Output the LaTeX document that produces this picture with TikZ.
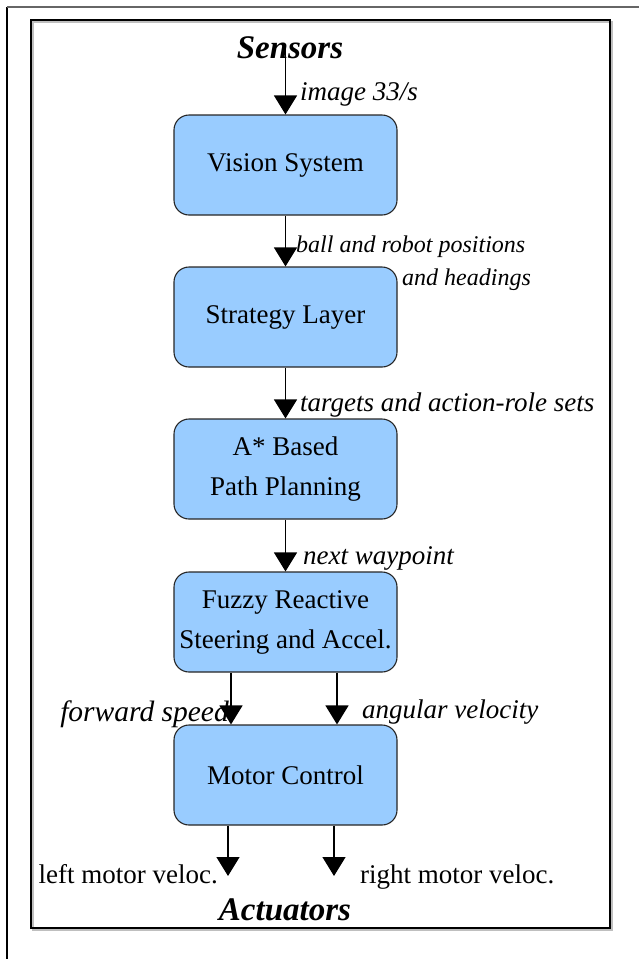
\documentclass[tikz,border=0pt]{standalone}
\usepackage{fontspec}
\setmainfont{Liberation Serif}
\usetikzlibrary{arrows.meta}
\definecolor{boxblue}{HTML}{99CCFF}
\begin{document}
\begin{tikzpicture}[x=1pt,y=-1pt,
  block/.style={draw=black!85, line width=1.1pt, fill=boxblue, rounded corners=15pt,
    minimum width=223pt, minimum height=100pt, inner sep=0pt, align=center,
    font=\fontsize{27}{40}\selectfont},
  lbl/.style={inner sep=0pt, font=\fontsize{27}{32}\selectfont\itshape},
  olbl/.style={inner sep=0pt, font=\fontsize{27}{32}\selectfont},
  end/.style={inner sep=0pt, font=\fontsize{33}{38}\selectfont\bfseries\itshape},
  arr/.style={line width=1.3pt, -{Triangle[width=23pt,length=19pt]}}]
\useasboundingbox (0,0) rectangle (639,959);
% page and frame
\draw[line width=1.2pt] (7,959) -- (7,7);
\draw[line width=1.2pt, black!60] (7,7) -- (639,7);
\draw[line width=1.2pt, black!25] (33,22) rectangle (612,930);
\draw[line width=1.2pt] (31,20) rectangle (610,928);
% blocks
\node[end] (sens) at (290,48){Sensors};
\node[block] (vis) at (285.5,165){Vision System};
\node[block] (strat) at (285.5,317){Strategy Layer};
\node[block] (plan) at (285.5,469){A* Based\\Path Planning};
\node[block] (fuzzy) at (285.5,622){Fuzzy Reactive\\Steering and Accel.};
\node[block] (motor) at (285.5,775){Motor Control};
\node[end] (act) at (285,910){Actuators};
\coordinate (lv) at (228,876);
\coordinate (rv) at (334,876);
% flow
\draw[arr] (sens.center -| vis.north) -- (vis.north);
\draw[arr] (vis) -- (strat);
\draw[arr] (strat) -- (plan);
\draw[arr] (plan) -- (fuzzy);
\draw[arr] ([xshift=-54.5pt]fuzzy.south) -- ([xshift=-54.5pt]motor.north);
\draw[arr] ([xshift=51.5pt]fuzzy.south) -- ([xshift=51.5pt]motor.north);
\draw[arr] (lv |- motor.south) -- (lv);
\draw[arr] (rv |- motor.south) -- (rv);
% labels
\node[lbl, anchor=base west] (limg) at (300,100){image 33/s};
\node[lbl, anchor=base west, font=\fontsize{24}{28}\selectfont\itshape] (lpos) at (296,252){ball and robot positions};
\node[lbl, anchor=base west, font=\fontsize{24}{28}\selectfont\itshape] (lhead) at (402,285){and headings};
\node[lbl, anchor=base west] (ltgt) at (300,411){targets and action-role sets};
\node[lbl, anchor=base west] (lway) at (303,564){next waypoint};
\node[lbl, anchor=base east, font=\fontsize{29.5}{34}\selectfont\itshape] (lfwd) at (229,721){forward speed};
\node[lbl, anchor=base west] (lang) at (362,718){angular velocity};
\node[olbl, anchor=base east] (llv) at (218,883){left motor veloc.};
\node[olbl, anchor=base west] (lrv) at (360,883){right motor veloc.};
\end{tikzpicture}
\end{document}
